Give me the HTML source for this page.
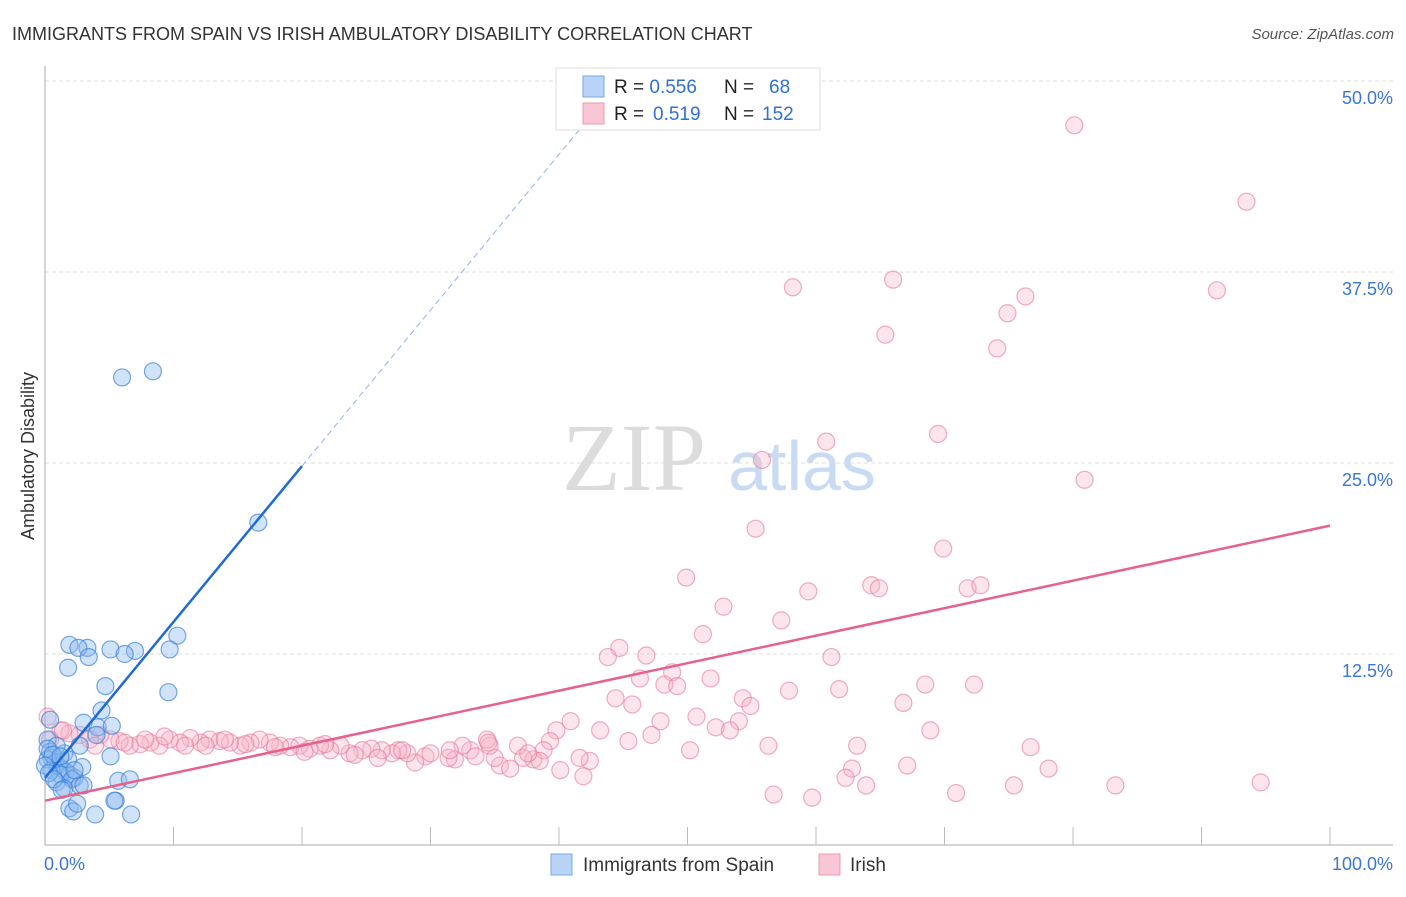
<!DOCTYPE html>
<html><head><meta charset="utf-8">
<style>
body{margin:0;background:#fff;font-family:"Liberation Sans",sans-serif;}
svg text{font-family:"Liberation Sans",sans-serif;}
</style></head>
<body>
<svg id="chart" width="1406" height="892" viewBox="0 0 1406 892" xmlns="http://www.w3.org/2000/svg">
<text x="12" y="40" font-size="18" fill="#333">IMMIGRANTS FROM SPAIN VS IRISH AMBULATORY DISABILITY CORRELATION CHART</text>
<text x="1394" y="39" font-size="15" fill="#555" text-anchor="end" font-style="italic">Source: ZipAtlas.com</text>
<text x="0" y="0" font-size="18" fill="#333" text-anchor="middle" transform="translate(34,456) rotate(-90)">Ambulatory Disability</text>
<g>
<text x="634" y="490" font-size="96" fill="#dcdcdc" text-anchor="middle" font-family="Liberation Serif, serif" style="font-family:'Liberation Serif',serif">ZIP</text>
<text x="802" y="490" font-size="70" fill="#c9dbf3" text-anchor="middle">atlas</text>
</g>
<g id="grid"></g>
<g id="axes"></g>
<g id="marks"></g>
<g>
<rect x="556" y="68" width="264" height="62" fill="#fff" stroke="#ddd"/>
<rect x="583" y="76" width="21" height="21" fill="#b8d3f5" stroke="#7aa8e8"/>
<rect x="583" y="103" width="21" height="21" fill="#f9c6d5" stroke="#eb9ab4"/>
<text x="614" y="93" font-size="19" fill="#222">R = <tspan fill="#2f6fd6">0.556</tspan><tspan x="724">N =</tspan><tspan x="769" fill="#2f6fd6">68</tspan></text>
<text x="614" y="120" font-size="19" fill="#222">R = <tspan x="653" fill="#2f6fd6">0.519</tspan><tspan x="724">N =</tspan><tspan x="762" fill="#2f6fd6">152</tspan></text>
</g>
<g>
<rect x="551" y="854" width="21" height="21" fill="#b8d3f5" stroke="#7aa8e8"/>
<text x="583" y="871" font-size="19" fill="#333">Immigrants from Spain</text>
<rect x="819" y="854" width="21" height="21" fill="#f9c6d5" stroke="#eb9ab4"/>
<text x="850" y="871" font-size="19" fill="#333">Irish</text>
</g>
</svg>
<script>
const yTicks=[12.5,25.0,37.5,50.0];
const yTickLabels=["12.5%","25.0%","37.5%","50.0%"];
const xTickLabels=["0.0%","100.0%"];
const spainX=[6.0,8.4,16.6,1.9,3.3,2.6,3.4,5.1,7.0,6.2,10.3,9.7,1.8,4.7,9.6,4.4,3.0,4.1,5.2,4.0,2.7,0.4,0.2,0.4,0.5,0.8,1.0,1.3,1.6,1.9,2.3,0.2,0.5,1.2,2.1,0.9,1.5,2.7,3.0,5.1,5.7,6.6,2.9,5.5,5.4,1.9,2.2,3.9,2.5,6.7,1.5,0.9,0.2,0.6,1.8,0,1.2,0.3,2.3,0.7,1.3];
const spainY=[30.6,31.0,21.1,13.1,12.9,12.9,12.3,12.8,12.7,12.5,13.7,12.8,11.6,10.4,10.0,8.8,8.0,7.7,7.8,7.2,6.5,8.2,6.9,6.1,5.7,5.4,5.2,5.0,4.8,4.6,4.4,5.6,4.9,4.6,4.3,4.1,3.7,3.9,3.9,5.8,4.2,4.3,5.1,2.9,2.9,2.4,2.2,2.0,2.7,2.0,6.0,6.5,6.3,5.9,5.6,5.2,5.8,4.7,4.9,4.3,3.6];
const irishX=[80.1,93.5,58.2,66.0,91.2,76.3,74.9,65.4,74.1,60.8,69.5,55.8,80.9,55.3,69.9,49.9,59.4,64.3,64.9,71.8,72.8,52.8,57.3,51.2,44.7,43.8,46.8,61.2,48.8,46.3,48.2,49.2,51.8,68.5,72.3,44.4,45.7,54.3,57.9,61.8,54.9,66.8,40.9,47.9,50.7,54.0,52.2,53.3,68.9,39.8,43.2,45.4,47.2,50.2,56.3,63.2,76.7,67.1,62.8,78.1,62.3,63.9,83.3,75.4,94.6,70.9,56.7,59.7,
39.3,40.1,41.9,42.4,41.6,38.8,38.0,37.2,35.4,36.2,35.0,34.6,34.4,33.1,32.5,31.9,31.4,29.6,28.8,28.2,27.5,27.0,26.2,25.4,24.7,23.7,23.0,22.2,21.4,20.6,19.8,19.1,18.3,17.5,16.7,16.0,15.2,14.4,13.6,12.8,12.1,11.3,10.5,9.7,8.9,8.2,7.4,6.6,5.8,5.1,4.3,3.5,2.7,1.9,1.2,0.4,0.2,1.4,3.9,6.2,7.8,9.3,10.9,12.5,14.0,15.6,17.9,20.2,21.8,24.1,25.9,27.8,30.0,31.5,33.5,36.8,38.5,34.5,37.6];
const irishY=[47.1,42.1,36.5,37.0,36.3,35.9,34.8,33.4,32.5,26.4,26.9,25.2,23.9,20.7,19.4,17.5,16.6,17.0,16.8,16.8,17.0,15.6,14.7,13.8,12.9,12.3,12.4,12.3,11.3,10.9,10.5,10.4,10.9,10.5,10.5,9.6,9.2,9.6,10.1,10.2,9.1,9.3,8.1,8.1,8.4,8.1,7.7,7.5,7.5,7.5,7.5,6.8,7.2,6.2,6.5,6.5,6.4,5.2,5.0,5.0,4.4,3.9,3.9,3.9,4.1,3.4,3.3,3.1,
6.8,4.9,4.5,5.5,5.7,6.2,5.6,5.7,5.2,5.0,5.7,6.5,6.9,6.2,6.5,5.6,5.7,5.8,5.4,6.0,6.2,6.0,6.2,6.3,6.2,6.0,6.5,6.2,6.5,6.3,6.5,6.4,6.5,6.7,6.9,6.7,6.5,6.7,6.8,6.9,6.7,7.0,6.7,6.9,6.5,6.7,6.6,6.5,6.8,6.9,7.2,6.9,7.2,7.3,7.5,6.9,8.4,7.5,6.5,6.7,6.9,7.1,6.5,6.5,6.9,6.6,6.4,6.1,6.6,5.9,5.7,6.2,6.0,6.2,5.8,6.5,5.5,6.7,6.0];
const spainFit=[4.4,1.02];
const irishFit=[2.9,0.18];

const NS="http://www.w3.org/2000/svg";
const X0=45,X1=1330,Y0=845,PXPERPCT=191/12.5;
function sx(v){return X0+(X1-X0)*v/100;}
function sy(v){return Y0-v*PXPERPCT;}
function mk(tag,attrs,parent){const e=document.createElementNS(NS,tag);for(const k in attrs)e.setAttribute(k,attrs[k]);parent.appendChild(e);return e;}
const grid=document.getElementById('grid'),axes=document.getElementById('axes'),marks=document.getElementById('marks');
yTicks.forEach((t,i)=>{
  const l=mk('line',{x1:X0,x2:1393,y1:sy(t),y2:sy(t),stroke:'#ddd','stroke-dasharray':'4,3'},grid);
  
  
  const tx=mk('text',{x:1393,y:sy(t)+23,'font-size':18,fill:'#3a76d6','text-anchor':'end'},axes);
  tx.textContent=yTickLabels[i];
  
  
});
const ax=mk('line',{x1:X0,x2:1393,y1:Y0,y2:Y0,stroke:'#aaa'},axes);


const ay=mk('line',{x1:X0,x2:X0,y1:66,y2:Y0,stroke:'#aaa'},axes);


for(let i=1;i<=10;i++){
  const tk=mk('line',{x1:sx(i*10),x2:sx(i*10),y1:Y0-18,y2:Y0,stroke:'#bbb'},axes);
  
  
}
[[0,'start',44],[100,'end',1393]].forEach((d,i)=>{
  const tx=mk('text',{x:d[2],y:870,'font-size':18,fill:'#3a76d6','text-anchor':d[1]},axes);
  tx.textContent=xTickLabels[i];
  
  
});
irishX.forEach((x,i)=>{
  const c=mk('circle',{cx:sx(x),cy:sy(irishY[i]),r:8.5,fill:'rgba(247,180,200,0.35)',stroke:'rgba(230,120,155,0.6)','stroke-width':1.2},marks);
  
  
});
spainX.forEach((x,i)=>{
  const c=mk('circle',{cx:sx(x),cy:sy(spainY[i]),r:8.5,fill:'rgba(140,185,240,0.4)',stroke:'rgba(60,130,220,0.7)','stroke-width':1.2},marks);
  
  
});
const sl=mk('line',{x1:sx(0),y1:sy(spainFit[0]),x2:sx(20),y2:sy(spainFit[0]+spainFit[1]*20),stroke:'#1f6ad8','stroke-width':2.5},marks);


const sd=mk('line',{x1:sx(20),y1:sy(spainFit[0]+spainFit[1]*20),x2:sx(41.6),y2:sy(spainFit[0]+spainFit[1]*41.6),stroke:'#8fb4e8','stroke-width':1,'stroke-dasharray':'6,4'},marks);


const il=mk('line',{x1:sx(0),y1:sy(irishFit[0]),x2:sx(100),y2:sy(irishFit[0]+irishFit[1]*100),stroke:'#e8608c','stroke-width':2.5},marks);


</script>
</body></html>
